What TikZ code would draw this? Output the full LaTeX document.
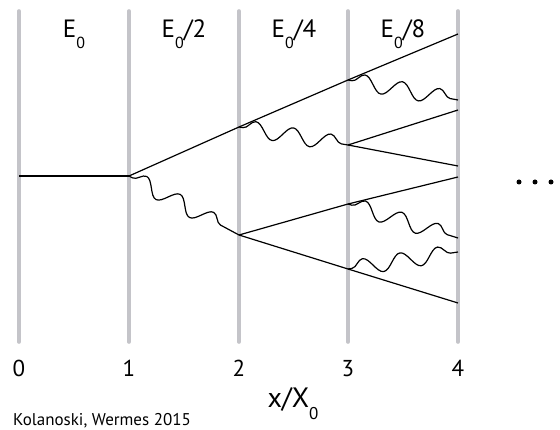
\documentclass[tikz,border=0pt]{standalone}
\usepackage{fontspec}
\setmainfont{PT Sans}
\usetikzlibrary{decorations.pathmorphing}
\newcommand\lowsub[2]{\raisebox{-0.42em}{\fontsize{#1}{#1}\selectfont #2}}
\begin{document}
\begin{tikzpicture}[x=1pt,y=-1pt,
  bar/.style={line width=3.6pt, draw={rgb,255:red,196;green,196;blue,201}, line cap=round},
  track/.style={line width=1.2pt, draw=black},
  photon/.style={line width=1.2pt, draw=black, decorate,
    decoration={snake, amplitude=8pt, segment length=38pt, pre length=4pt, post length=4pt}},
  elbl/.style={font=\fontsize{25}{25}\selectfont, inner sep=0pt, anchor=base},
  nlbl/.style={font=\fontsize{23}{23}\selectfont, inner sep=0pt, anchor=base},
  dotc/.style={circle, fill=black, inner sep=0pt, minimum size=5pt}]
\useasboundingbox (0,0) rectangle (560,430);
% radiation-length planes
\foreach \i/\x in {0/19,1/129,2/239,3/348,4/458}{
  \draw[bar] (\x,11) -- (\x,342);
  \node[nlbl] (n\i) at (\x,377) {\i};
}
% energy labels
\node[elbl] (l0) at (74,38) {E\lowsub{16}{0}};
\node[elbl] (l1) at (184,38) {E\lowsub{16}{0}/2};
\node[elbl] (l2) at (294,38) {E\lowsub{16}{0}/4};
\node[elbl] (l3) at (403,38) {E\lowsub{16}{0}/8};
% vertices
\coordinate (a0) at (19,176);
\coordinate (v1) at (129,176);
\coordinate (v2u) at (239,127);
\coordinate (v2d) at (239,235);
\coordinate (v3a) at (348,80);
\coordinate (v3b) at (348,145);
\coordinate (v3c) at (348,204);
\coordinate (v3d) at (348,269);
\coordinate (f1) at (458,34);
\coordinate (f2) at (458,100);
\coordinate (f3) at (458,110);
\coordinate (f4) at (458,166);
\coordinate (f5) at (458,177);
\coordinate (f6) at (458,238);
\coordinate (f7) at (458,252);
\coordinate (f8) at (458,303);
% tracks
\draw[track] (a0) -- (v1);
\draw[track] (v1) -- (v2u);
\draw[track] (v2u) -- (v3a);
\draw[track] (v3a) -- (f1);
\draw[track] (v3b) -- (f3);
\draw[track] (v3b) -- (f4);
\draw[track] (v2d) -- (v3c);
\draw[track] (v3c) -- (f5);
\draw[track] (v2d) -- (v3d);
\draw[track] (v3d) -- (f8);
% photons
\draw[photon] (v1) -- (v2d);
\draw[photon] (v2u) -- (v3b);
\draw[photon] (v3a) -- (f2);
\draw[photon] (v3c) -- (f6);
\draw[photon] (v3d) -- (f7);
% dots
\node[dotc] (d1) at (519,182) {};
\node[dotc] (d2) at (535,182) {};
\node[dotc] (d3) at (551,182) {};
% axis label
\node[inner sep=0pt, anchor=base, font=\fontsize{28}{28}\selectfont] (ax) at (293,408) {x/X\lowsub{17}{0}};
\node[inner sep=0pt, anchor=base west, font=\fontsize{17}{17}\selectfont] (cr) at (13,425) {Kolanoski, Wermes 2015};
\end{tikzpicture}
\end{document}
